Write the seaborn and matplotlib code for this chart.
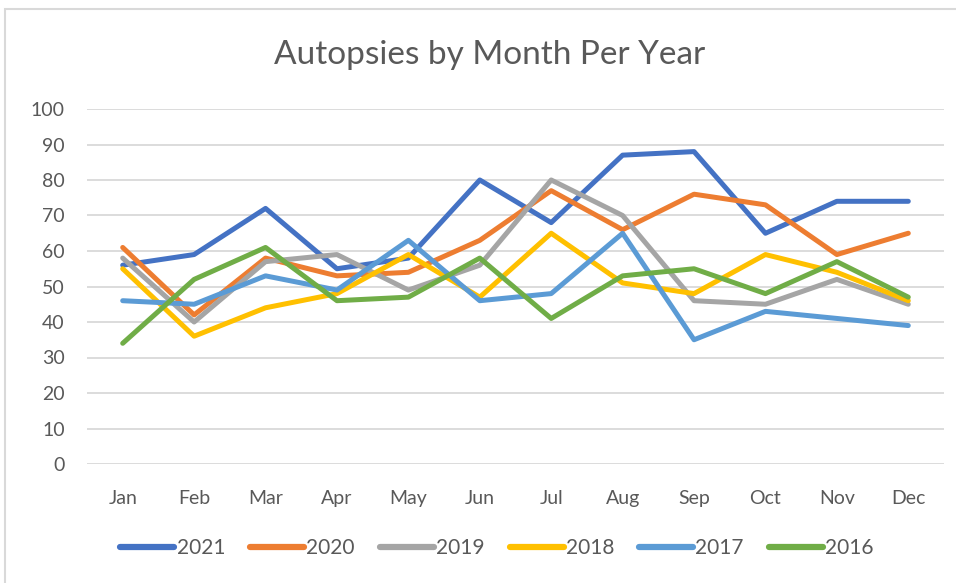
import seaborn as sns
import pandas as pd
import matplotlib.pyplot as plt
from matplotlib.patches import Rectangle

months = ["Jan", "Feb", "Mar", "Apr", "May", "Jun",
          "Jul", "Aug", "Sep", "Oct", "Nov", "Dec"]
years = ["2021", "2020", "2019", "2018", "2017", "2016"]

y2021 = [56, 59, 72, 55, 58, 80, 68, 87, 88, 65, 74, 74]
y2020 = [61, 42, 58, 53, 54, 63, 77, 66, 76, 73, 59, 65]
y2019 = [58, 40, 57, 59, 49, 56, 80, 70, 46, 45, 52, 45]
y2018 = [55, 36, 44, 48, 59, 47, 65, 51, 48, 59, 54, 46]
y2017 = [46, 45, 53, 49, 63, 46, 48, 65, 35, 43, 41, 39]
y2016 = [34, 52, 61, 46, 47, 58, 41, 53, 55, 48, 57, 47]

colors = ["#4472C4", "#ED7D31", "#A5A5A5", "#FFC000", "#5B9BD5", "#70AD47"]

rows = []
for yr, vals in zip(years, [y2021, y2020, y2019, y2018, y2017, y2016]):
    for m, v in zip(months, vals):
        rows.append({"Month": m, "Year": yr, "Count": v})
df = pd.DataFrame(rows)

sns.set_style("white")
plt.rcParams["font.family"] = ["Lato", "DejaVu Sans"]
text_col = "#595959"

fig = plt.figure(figsize=(9.56, 5.83), dpi=100)
ax = fig.add_axes([87 / 956, 1 - 464 / 583, (944 - 87) / 956, (464 - 109) / 583])

sns.lineplot(data=df, x="Month", y="Count", hue="Year", hue_order=years,
             palette=colors, linewidth=3.6, sort=False, ax=ax,
             solid_capstyle="round", solid_joinstyle="round")

ax.set_ylim(0, 100)
ax.set_xlim(-0.5, 11.5)
ax.set_yticks(range(0, 101, 10))
ax.yaxis.grid(True, color="#D9D9D9", linewidth=1.3)
ax.set_axisbelow(True)
for s in ax.spines.values():
    s.set_visible(False)
ax.tick_params(axis="both", length=0, labelsize=14, colors=text_col)
ax.tick_params(axis="x", pad=19)
ax.tick_params(axis="y", pad=16)
ax.set_xlabel("")
ax.set_ylabel("")

fig.text(490 / 956, 1 - 55 / 583, "Autopsies by Month Per Year", ha="center",
         va="center", fontsize=24, color=text_col)

handles, labels = ax.get_legend_handles_labels()
leg = ax.legend(handles, labels, loc="center",
                bbox_to_anchor=(497 / 956, 1 - 548 / 583),
                bbox_transform=fig.transFigure, ncol=6, frameon=False,
                fontsize=15, handlelength=2.6, handletextpad=0.1,
                columnspacing=1.2, labelcolor=text_col)
for line in leg.get_lines():
    line.set_linewidth(4.5)
    line.set_solid_capstyle("round")

fig.patches.append(Rectangle((5 / 956, -0.1), 1.2, 1 - 9 / 583 + 0.1,
                             transform=fig.transFigure, fill=False,
                             edgecolor="#D9D9D9", linewidth=1.5))

fig.savefig("out.png", dpi=100)
